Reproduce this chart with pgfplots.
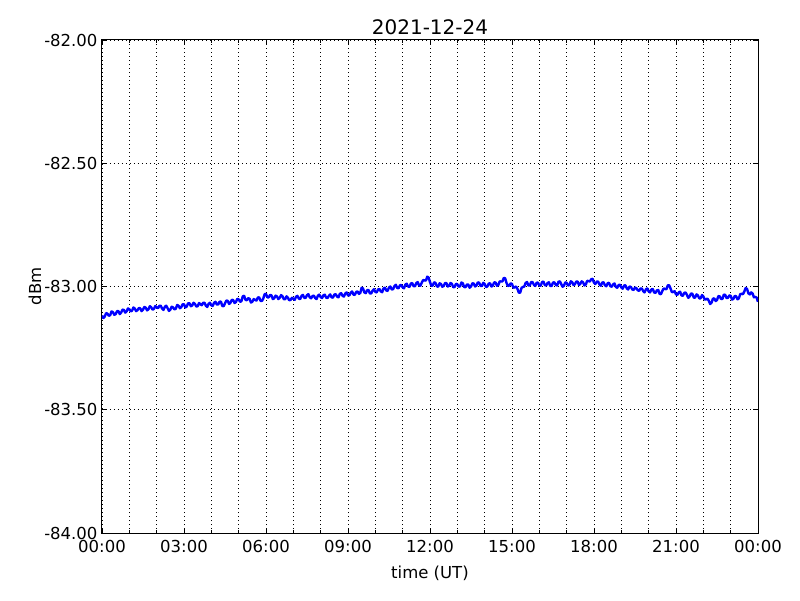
\documentclass[border=0pt]{standalone}
\usepackage{pgfplots}
\pgfplotsset{compat=1.18}
\usepackage{fontspec}
\setmainfont{DejaVu Sans}
\usetikzlibrary{calc}
\pgfplotstableread{
x y
0.00 -83.118
0.05 -83.128
0.10 -83.122
0.15 -83.108
0.20 -83.110
0.25 -83.119
0.30 -83.116
0.35 -83.101
0.40 -83.104
0.45 -83.115
0.50 -83.112
0.55 -83.100
0.60 -83.100
0.65 -83.112
0.70 -83.106
0.75 -83.094
0.80 -83.095
0.85 -83.106
0.90 -83.101
0.95 -83.089
1.00 -83.092
1.05 -83.101
1.10 -83.098
1.15 -83.085
1.20 -83.090
1.25 -83.100
1.30 -83.096
1.35 -83.087
1.40 -83.089
1.45 -83.100
1.50 -83.094
1.55 -83.083
1.60 -83.086
1.65 -83.097
1.70 -83.092
1.75 -83.080
1.80 -83.084
1.85 -83.094
1.90 -83.091
1.95 -83.079
2.00 -83.085
2.05 -83.088
2.10 -83.078
2.15 -83.078
2.20 -83.090
2.25 -83.095
2.30 -83.082
2.35 -83.078
2.40 -83.088
2.45 -83.099
2.50 -83.094
2.55 -83.082
2.60 -83.085
2.65 -83.093
2.70 -83.090
2.75 -83.075
2.80 -83.078
2.85 -83.088
2.90 -83.084
2.95 -83.072
3.00 -83.072
3.05 -83.085
3.10 -83.081
3.15 -83.068
3.20 -83.068
3.25 -83.080
3.30 -83.077
3.35 -83.066
3.40 -83.071
3.45 -83.081
3.50 -83.080
3.55 -83.067
3.60 -83.072
3.65 -83.076
3.70 -83.066
3.75 -83.066
3.80 -83.078
3.85 -83.083
3.90 -83.070
3.95 -83.066
4.00 -83.076
4.05 -83.079
4.10 -83.066
4.15 -83.062
4.20 -83.073
4.25 -83.073
4.30 -83.062
4.35 -83.061
4.40 -83.079
4.45 -83.080
4.50 -83.068
4.55 -83.057
4.60 -83.058
4.65 -83.071
4.70 -83.066
4.75 -83.054
4.80 -83.055
4.85 -83.067
4.90 -83.063
4.95 -83.050
5.00 -83.052
5.05 -83.062
5.10 -83.060
5.15 -83.040
5.20 -83.038
5.25 -83.054
5.30 -83.056
5.35 -83.047
5.40 -83.050
5.45 -83.065
5.50 -83.062
5.55 -83.051
5.60 -83.054
5.65 -83.057
5.70 -83.045
5.75 -83.044
5.80 -83.058
5.85 -83.059
5.90 -83.049
5.95 -83.031
6.00 -83.030
6.05 -83.044
6.10 -83.044
6.15 -83.034
6.20 -83.036
6.25 -83.051
6.30 -83.048
6.35 -83.037
6.40 -83.040
6.45 -83.051
6.50 -83.046
6.55 -83.035
6.60 -83.039
6.65 -83.051
6.70 -83.052
6.75 -83.040
6.80 -83.045
6.85 -83.056
6.90 -83.054
6.95 -83.046
7.00 -83.050
7.05 -83.054
7.10 -83.041
7.15 -83.038
7.20 -83.049
7.25 -83.051
7.30 -83.038
7.35 -83.034
7.40 -83.046
7.45 -83.046
7.50 -83.035
7.55 -83.031
7.60 -83.044
7.65 -83.048
7.70 -83.039
7.75 -83.037
7.80 -83.047
7.85 -83.051
7.90 -83.037
7.95 -83.033
8.00 -83.043
8.05 -83.047
8.10 -83.036
8.15 -83.033
8.20 -83.045
8.25 -83.047
8.30 -83.038
8.35 -83.032
8.40 -83.044
8.45 -83.045
8.50 -83.033
8.55 -83.031
8.60 -83.041
8.65 -83.044
8.70 -83.030
8.75 -83.027
8.80 -83.038
8.85 -83.041
8.90 -83.028
8.95 -83.024
9.00 -83.036
9.05 -83.036
9.10 -83.025
9.15 -83.020
9.20 -83.033
9.25 -83.034
9.30 -83.022
9.35 -83.020
9.40 -83.030
9.45 -83.026
9.50 -83.005
9.55 -83.008
9.60 -83.024
9.65 -83.027
9.70 -83.015
9.75 -83.014
9.80 -83.028
9.85 -83.028
9.90 -83.017
9.95 -83.011
10.00 -83.022
10.05 -83.024
10.10 -83.012
10.15 -83.010
10.20 -83.020
10.25 -83.023
10.30 -83.008
10.35 -83.005
10.40 -83.016
10.45 -83.018
10.50 -83.004
10.55 -83.000
10.60 -83.012
10.65 -83.011
10.70 -82.998
10.75 -82.993
10.80 -83.006
10.85 -83.007
10.90 -82.995
10.95 -82.994
11.00 -83.004
11.05 -83.007
11.10 -82.992
11.15 -82.989
11.20 -83.000
11.25 -83.002
11.30 -82.988
11.35 -82.986
11.40 -82.999
11.45 -82.999
11.50 -82.986
11.55 -82.982
11.60 -82.996
11.65 -82.997
11.70 -82.984
11.75 -82.974
11.80 -82.975
11.85 -82.976
11.90 -82.960
11.95 -82.964
12.00 -82.982
12.05 -82.997
12.10 -82.996
12.15 -82.983
12.20 -82.985
12.25 -82.999
12.30 -83.001
12.35 -82.987
12.40 -82.990
12.45 -83.001
12.50 -82.998
12.55 -82.986
12.60 -82.986
12.65 -83.000
12.70 -82.997
12.75 -82.986
12.80 -82.989
12.85 -83.003
12.90 -83.002
12.95 -82.989
13.00 -82.991
13.05 -83.001
13.10 -82.999
13.15 -82.984
13.20 -82.987
13.25 -83.002
13.30 -83.003
13.35 -82.992
13.40 -82.992
13.45 -83.005
13.50 -83.000
13.55 -82.987
13.60 -82.988
13.65 -83.000
13.70 -82.996
13.75 -82.983
13.80 -82.985
13.85 -82.998
13.90 -82.998
13.95 -82.985
14.00 -82.990
14.05 -83.002
14.10 -83.000
14.15 -82.988
14.20 -82.987
14.25 -83.000
14.30 -82.996
14.35 -82.983
14.40 -82.984
14.45 -82.997
14.50 -82.994
14.55 -82.979
14.60 -82.980
14.65 -82.979
14.70 -82.965
14.75 -82.967
14.80 -82.986
14.85 -82.998
14.90 -82.996
14.95 -82.987
15.00 -82.990
15.05 -83.005
15.10 -83.003
15.15 -83.000
15.20 -83.010
15.25 -83.025
15.30 -83.025
15.35 -83.005
15.40 -83.002
15.45 -83.000
15.50 -82.985
15.55 -82.982
15.60 -82.996
15.65 -82.996
15.70 -82.982
15.75 -82.982
15.80 -82.993
15.85 -82.998
15.90 -82.985
15.95 -82.984
16.00 -82.996
16.05 -82.997
16.10 -82.982
16.15 -82.980
16.20 -82.994
16.25 -82.996
16.30 -82.986
16.35 -82.983
16.40 -82.998
16.45 -82.998
16.50 -82.984
16.55 -82.983
16.60 -82.993
16.65 -82.996
16.70 -82.981
16.75 -82.979
16.80 -82.990
16.85 -83.001
16.90 -82.997
16.95 -82.983
17.00 -82.985
17.05 -82.996
17.10 -82.994
17.15 -82.979
17.20 -82.982
17.25 -82.994
17.30 -82.991
17.35 -82.980
17.40 -82.980
17.45 -82.994
17.50 -82.989
17.55 -82.979
17.60 -82.983
17.65 -82.996
17.70 -82.992
17.75 -82.977
17.80 -82.978
17.85 -82.980
17.90 -82.970
17.95 -82.969
18.00 -82.985
18.05 -82.990
18.10 -82.980
18.15 -82.980
18.20 -82.992
18.25 -82.997
18.30 -82.984
18.35 -82.983
18.40 -82.995
18.45 -82.999
18.50 -82.987
18.55 -82.985
18.60 -82.999
18.65 -83.001
18.70 -82.991
18.75 -82.988
18.80 -83.002
18.85 -83.005
18.90 -82.994
18.95 -82.993
19.00 -83.004
19.05 -83.009
19.10 -82.996
19.15 -82.995
19.20 -83.008
19.25 -83.012
19.30 -83.000
19.35 -83.002
19.40 -83.012
19.45 -83.014
19.50 -83.004
19.55 -83.007
19.60 -83.015
19.65 -83.018
19.70 -83.008
19.75 -83.008
19.80 -83.019
19.85 -83.024
19.90 -83.011
19.95 -83.008
20.00 -83.020
20.05 -83.024
20.10 -83.012
20.15 -83.010
20.20 -83.024
20.25 -83.026
20.30 -83.016
20.35 -83.014
20.40 -83.030
20.45 -83.031
20.50 -83.018
20.55 -83.008
20.60 -83.010
20.65 -83.011
20.70 -82.995
20.75 -82.995
20.80 -83.008
20.85 -83.023
20.90 -83.022
20.95 -83.019
21.00 -83.032
21.05 -83.034
21.10 -83.024
21.15 -83.021
21.20 -83.036
21.25 -83.038
21.30 -83.026
21.35 -83.024
21.40 -83.034
21.45 -83.046
21.50 -83.040
21.55 -83.028
21.60 -83.030
21.65 -83.045
21.70 -83.045
21.75 -83.032
21.80 -83.036
21.85 -83.048
21.90 -83.048
21.95 -83.035
22.00 -83.040
22.05 -83.053
22.10 -83.052
22.15 -83.049
22.20 -83.058
22.25 -83.071
22.30 -83.066
22.35 -83.050
22.40 -83.048
22.45 -83.059
22.50 -83.055
22.55 -83.039
22.60 -83.040
22.65 -83.051
22.70 -83.050
22.75 -83.033
22.80 -83.034
22.85 -83.047
22.90 -83.046
22.95 -83.036
23.00 -83.038
23.05 -83.053
23.10 -83.050
23.15 -83.038
23.20 -83.040
23.25 -83.052
23.30 -83.048
23.35 -83.031
23.40 -83.030
23.45 -83.031
23.50 -83.020
23.55 -83.006
23.60 -83.010
23.65 -83.028
23.70 -83.032
23.75 -83.024
23.80 -83.028
23.85 -83.044
23.90 -83.042
23.95 -83.045
24.00 -83.062
}\data
\begin{document}
\begin{tikzpicture}
\begin{axis}[
  name=ax,
  scale only axis,
  width=656pt, height=493pt,
  xmin=0, xmax=24, ymin=-84, ymax=-82,
  xtick={0,3,...,24},
  xticklabels={00:00,03:00,06:00,09:00,12:00,15:00,18:00,21:00,00:00},
  minor xtick={1,2,4,5,7,8,10,11,13,14,16,17,19,20,22,23},
  ytick={-84,-83.5,-83,-82.5,-82},
  yticklabels={-84.00,-83.50,-83.00,-82.50,-82.00},
  tick align=inside,
  major tick length=5pt, minor tick length=3pt,
  tick style={black, line width=0.8pt},
  grid=both,
  major grid style={black, line width=0.7pt, dash pattern=on 1pt off 3pt},
  minor grid style={black, line width=0.7pt, dash pattern=on 1pt off 3pt},
  axis line style={black, line width=1pt},
  ticklabel style={font=\fontsize{16.5}{20}\selectfont},
  xticklabel style={yshift=-4pt},
  yticklabel style={xshift=-1pt},
  xlabel={time (UT)}, ylabel={dBm},
  label style={font=\fontsize{16.5}{20}\selectfont},
  xlabel style={yshift=-6pt},
  ylabel style={yshift=-4pt},
  title={2021-12-24},
  title style={font=\fontsize{20}{24}\selectfont, yshift=-4pt},
]
\addplot[blue, line width=2.4pt, line join=round] table[x=x,y=y] {\data};
\end{axis}
\useasboundingbox ($(ax.south west)+(-102pt,-67pt)$) rectangle ($(ax.north east)+(42pt,40pt)$);
\end{tikzpicture}
\end{document}
